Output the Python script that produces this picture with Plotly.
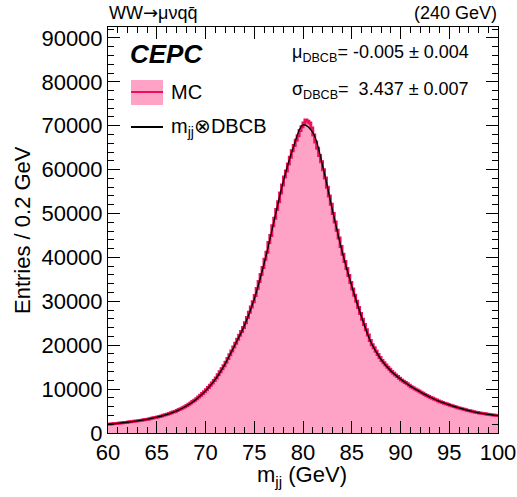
import numpy as np
import plotly.graph_objects as go

# ---------------- data ----------------
bin_low = 60.0
bin_width = 0.2

mc_counts = [
    2020, 2060, 2100, 2140, 2180,
    2230, 2270, 2330, 2380, 2420,
    2480, 2540, 2600, 2660, 2720,
    2790, 2860, 2920, 3000, 3070,
    3150, 3250, 3350, 3450, 3550,
    3660, 3780, 3900, 4020, 4140,
    4280, 4440, 4600, 4760, 4920,
    5110, 5330, 5550, 5770, 5990,
    6250, 6550, 6850, 7150, 7450,
    7800, 8200, 8600, 9000, 9400,
    9860, 10380, 10900, 11420, 11940,
    12550, 13250, 13950, 14650, 15350,
    16130, 16990, 17850, 18710, 19570,
    20450, 21350, 22250, 23150, 24050,
    25100, 26300, 27500, 28700, 29900,
    31300, 32900, 34500, 36100, 37700,
    39600, 41200, 43400, 45000, 47200,
    48900, 50900, 52700, 54700, 56500,
    58300, 59700, 61300, 62800, 64300,
    65500, 66700, 67700, 68900, 69800,
    70600, 71300, 71000, 70600, 69500,
    67900, 66300, 64900, 63200, 61800,
    60000, 58100, 56000, 54000, 52100,
    50000, 48100, 46200, 44400, 42500,
    40700, 39100, 37500, 35900, 34300,
    32800, 31400, 30000, 28600, 27200,
    25900, 24700, 23500, 22300, 21100,
    20100, 19400, 18600, 17900, 17200,
    16500, 16000, 15500, 15000, 14500,
    14000, 13600, 13200, 12900, 12500,
    12100, 11800, 11500, 11200, 10900,
    10550, 10300, 10050, 9800, 9550,
    9300, 9050, 8800, 8550, 8300,
    8100, 7900, 7700, 7500, 7300,
    7100, 6950, 6800, 6650, 6500,
    6350, 6200, 6050, 5900, 5750,
    5650, 5550, 5400, 5300, 5150,
    5050, 4950, 4850, 4750, 4650,
    4580, 4500, 4430, 4360, 4290,
    4220, 4160, 4100, 4040, 3980,
]

fit_mass = list(range(60, 101))
fit_values = [
    2000, 2200, 2450, 2750, 3100, 3600, 4200, 5000, 6100, 7600,
    9600, 12200, 15700, 20000, 24500, 30500, 38500, 48000, 57500, 65000,
    70200, 68500, 61000, 51000, 41500, 33500, 26500, 20500, 16800, 14200,
    12300, 10700, 9400, 8200, 7200, 6400, 5700, 5100, 4600, 4250,
    3950,
]

x_ticks = [60, 65, 70, 75, 80, 85, 90, 95, 100]
y_ticks = [0, 10000, 20000, 30000, 40000, 50000, 60000, 70000, 80000, 90000]

# ---------------- figure ----------------
FONT = "Liberation Sans, Arial, Helvetica, sans-serif"
PINK_FILL = "#ffa3c6"
PINK_LINE = "#ee0f5c"

edges = bin_low + bin_width * np.arange(len(mc_counts) + 1)
step_x = list(edges)
step_y = list(mc_counts) + [mc_counts[-1]]

fig = go.Figure()
fig.add_trace(go.Scatter(
    x=step_x, y=step_y, mode="lines", line_shape="hv",
    line=dict(color=PINK_LINE, width=3),
    fill="tozeroy", fillcolor=PINK_FILL, showlegend=False, hoverinfo="skip",
))
fig.add_trace(go.Scatter(
    x=fit_mass, y=fit_values, mode="lines", line_shape="spline",
    line=dict(color="black", width=1.3, smoothing=1.0),
    showlegend=False, hoverinfo="skip",
))

W, H = 517, 497
PL, PR, PT, PB = 108, 498, 27, 433          # plot box in pixels
L, T, R, B = PL, PT, W - PR, H - PB
PW, PH = PR - PL, PB - PT


def px(xp):
    return (xp - PL) / PW


def py(yp):
    return (PB - yp) / PH


axis_common = dict(
    showgrid=False, zeroline=False, showline=True, linecolor="black", linewidth=1,
    mirror="allticks", ticks="inside", ticklen=12, tickwidth=1, tickcolor="black",
    tickfont=dict(family=FONT, size=22, color="black"), automargin=False,
)

fig.update_xaxes(
    range=[60, 100], tickvals=x_ticks, ticktext=[str(v) for v in x_ticks],
    minor=dict(ticks="inside", ticklen=6, dtick=1, tickcolor="black", showgrid=False),
    **axis_common,
)
fig.update_yaxes(
    range=[0, 92500], tickvals=y_ticks, ticktext=[str(v) for v in y_ticks],
    minor=dict(ticks="inside", ticklen=6, dtick=2000, tickcolor="black", showgrid=False),
    **axis_common,
)

ann = []


def add_text(text, x, y, size, xanchor="left", yanchor="middle", **kw):
    ann.append(dict(text=text, x=px(x), y=py(y), xref="paper", yref="paper",
                    xanchor=xanchor, yanchor=yanchor, showarrow=False,
                    font=dict(family=FONT, size=size, color="black"), **kw))


add_text("WW<span style=\"font-family:DejaVu Sans\">\u2192</span>\u03bc\u03bdqq\u0304", 107, 13, 18)
add_text("(240 GeV)", 499, 13, 18, xanchor="right")
add_text("<b><i>CEPC</i></b>", 128, 54, 26)
add_text("MC", 169, 92, 20)
add_text("m<sub>jj</sub>\u2297DBCB", 169, 128, 20)
add_text("\u03bc<sub>DBCB</sub>= -0.005 \u00b1 0.004", 290, 54, 18)
add_text("\u03c3<sub>DBCB</sub>=\u00a0 3.437 \u00b1 0.007", 290, 90, 18)
add_text("m<sub>jj</sub> (GeV)", 302, 476, 22, xanchor="center")
add_text("Entries / 0.2 GeV", 22, 230, 22, xanchor="center", textangle=-90)

shapes = [
    dict(type="rect", xref="paper", yref="paper", x0=px(131), x1=px(163),
         y0=py(105), y1=py(80), fillcolor=PINK_FILL, line=dict(width=0)),
    dict(type="line", xref="paper", yref="paper", x0=px(131), x1=px(163),
         y0=py(92), y1=py(92), line=dict(color=PINK_LINE, width=2)),
    dict(type="line", xref="paper", yref="paper", x0=px(131), x1=px(163),
         y0=py(127), y1=py(127), line=dict(color="black", width=2)),
]

fig.update_layout(
    width=W, height=H, margin=dict(l=L, r=R, t=T, b=B),
    paper_bgcolor="white", plot_bgcolor="white",
    annotations=ann, shapes=shapes, showlegend=False,
)

# remove the browser's default page margin so the figure sits at the page origin
fig.write_html("out.html", config={"displayModeBar": False},
               post_script="document.body.style.margin='0px';")
